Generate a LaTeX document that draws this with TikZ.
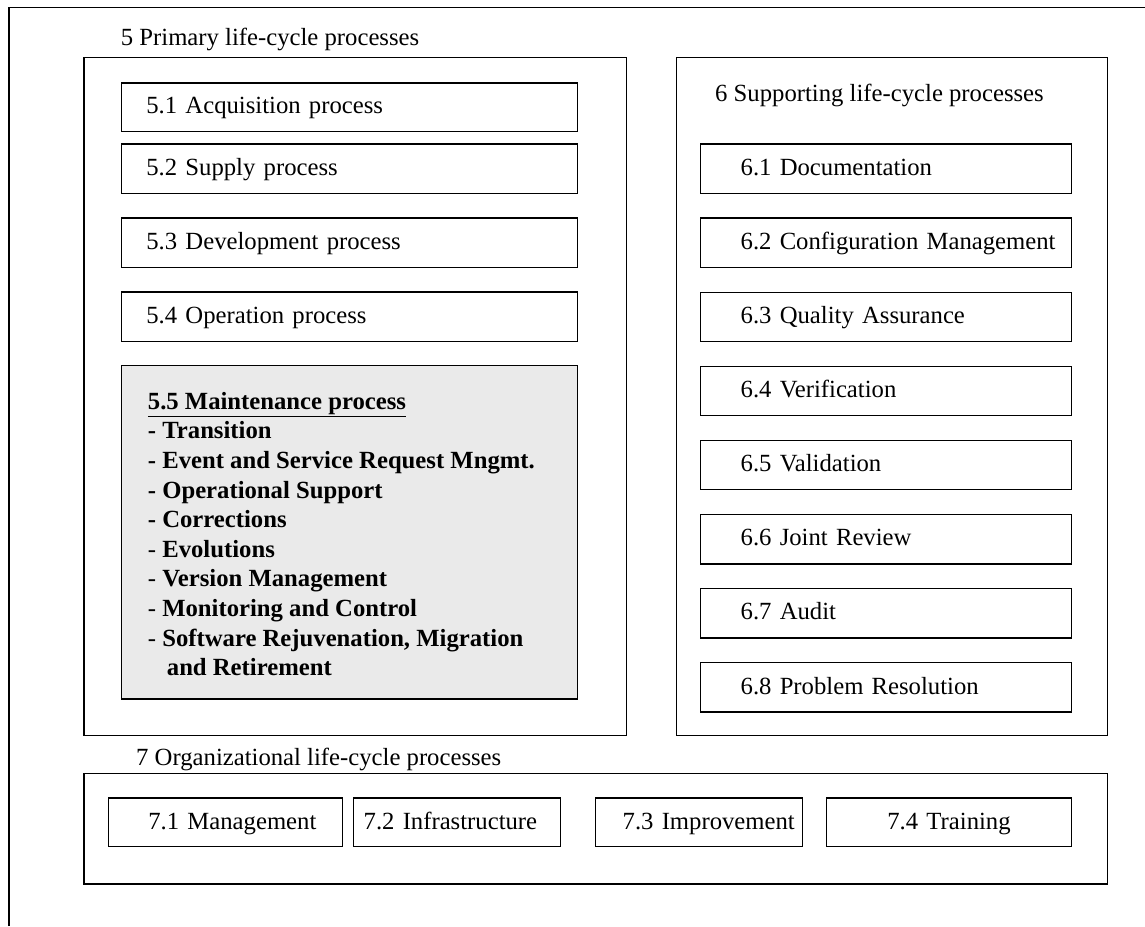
\documentclass[tikz,border=0pt]{standalone}
\usepackage{fontspec}
\setmainfont{Liberation Serif}
\definecolor{mgray}{HTML}{EAEAEA}
\newcommand\procbox[7]{\node[pbox, text width=#4pt, minimum height=#5pt] (#1) at (#2,#3) {\hspace*{#6pt}#7};}
\begin{document}
\begin{tikzpicture}[x=1pt,y=-1pt,
  every node/.style={font=\fontsize{24.7}{29.6}\selectfont, inner sep=0pt},
  frame/.style={line width=1.3pt},
  pbox/.style={draw, line width=1.3pt, anchor=north west, align=left, text height=18pt, text depth=4.6pt},
  cbox/.style={draw, line width=1.3pt, anchor=north west}]
\useasboundingbox (0,0) rectangle (1145,926);
\draw[frame] (9,926) -- (9,7.5) -- (1145,7.5);

% containers
\node[cbox, minimum width=542.7pt, minimum height=678pt] (primary) at (83.3,57) {};
\node[cbox, minimum width=431pt, minimum height=678pt] (support) at (675.7,57) {};
\node[cbox, minimum width=1023.7pt, minimum height=110.6pt] (org) at (83.3,772.7) {};

% titles
\node[anchor=base west] (primtitle) at (120.7,45) {5 Primary life-cycle processes};
\node[anchor=base west] (supptitle) at (715,101) {6 Supporting life-cycle processes};
\node[anchor=base west] (orgtitle) at (136,765) {7 Organizational life-cycle processes};

% primary
\procbox{p51}{120.7}{82.3}{455.8}{48.4}{25}{5.1 Acquisition process}
\procbox{p52}{120.7}{143.3}{455.8}{49.4}{25}{5.2 Supply process}
\procbox{p53}{120.7}{217.3}{455.8}{49.4}{25}{5.3 Development process}
\procbox{p54}{120.7}{291.3}{455.8}{49.4}{25}{5.4 Operation process}
\node[cbox, fill=mgray, minimum width=455.8pt, minimum height=333.3pt] (p55) at (120.7,365) {};
\node[anchor=north west, align=left, font=\fontsize{24.7}{29.6}\selectfont\bfseries] (p55t) at (147.7,392) {\underline{5.5 Maintenance process}\\
- Transition\\
- Event and Service Request Mngmt.\\
- Operational Support\\
- Corrections\\
\textmd{-} Evolutions\\
\textmd{-} Version Management\\
\textmd{-} Monitoring and Control\\
\textmd{-} Software Rejuvenation, Migration\\
\hspace*{19pt}and Retirement};

% supporting
\procbox{s61}{700}{143.3}{370.7}{49.4}{40}{6.1 Documentation}
\procbox{s62}{700}{217.4}{370.7}{49.4}{40}{6.2 Configuration Management}
\procbox{s63}{700}{291.5}{370.7}{49.4}{40}{6.3 Quality Assurance}
\procbox{s64}{700}{365.6}{370.7}{49.4}{40}{6.4 Verification}
\procbox{s65}{700}{439.7}{370.7}{49.4}{40}{6.5 Validation}
\procbox{s66}{700}{513.8}{370.7}{49.4}{40}{6.6 Joint Review}
\procbox{s67}{700}{587.9}{370.7}{49.4}{40}{6.7 Audit}
\procbox{s68}{700}{662}{370.7}{49.4}{40}{6.8 Problem Resolution}

% organizational
\procbox{o71}{107.7}{797.3}{234.3}{48.7}{40}{7.1 Management}
\procbox{o72}{352.7}{797.3}{207.3}{48.7}{10.3}{7.2 Infrastructure}
\procbox{o73}{595}{797.3}{207}{48.7}{27}{7.3 Improvement}
\procbox{o74}{825.7}{797.3}{244.8}{48.7}{61}{7.4 Training}
\end{tikzpicture}
\end{document}
